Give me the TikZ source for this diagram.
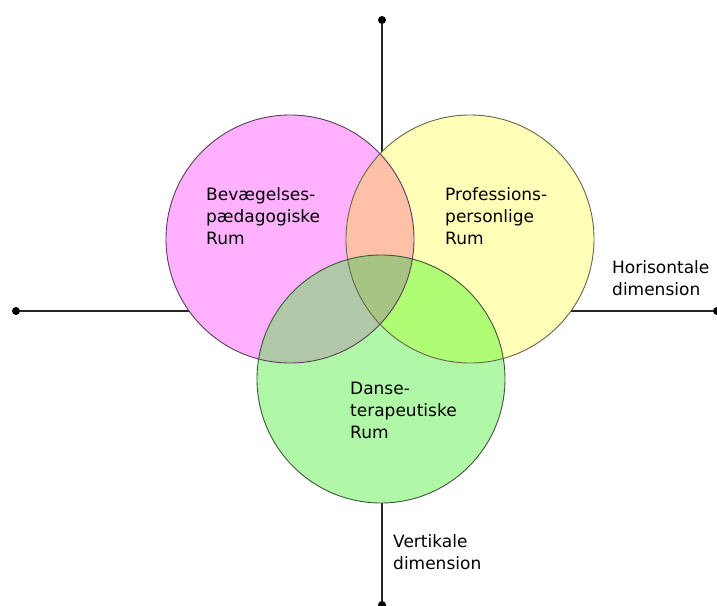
\documentclass[tikz,border=0pt]{standalone}
\usepackage{fontspec}
\setmainfont{DejaVu Sans}

\definecolor{PinkRoom}{HTML}{FFB0FF}
\definecolor{YellowRoom}{HTML}{FFFFB8}
\definecolor{GreenRoom}{HTML}{B0F8A8}
\definecolor{PinkYellow}{HTML}{FFC0A8}
\definecolor{PinkGreen}{HTML}{B0C8A8}
\definecolor{YellowGreen}{HTML}{B0FC74}
\definecolor{AllRooms}{HTML}{A8C484}

\begin{document}
\begin{tikzpicture}[x=1pt, y=-1pt]
    \useasboundingbox (0,0) rectangle (717,605);

    \tikzset{AxisStyle/.style={draw=black!85, line width=1.1pt}}
    \tikzset{DotStyle/.style={circle, fill=black, inner sep=0pt, minimum size=8pt}}
    \tikzset{RoomStyle/.style={line width=0.9pt}}
    \tikzset{TextStyle/.style={anchor=west, align=left, inner sep=0pt,
        font=\fontsize{17}{22}\selectfont}}

    % axes
    \node[DotStyle] (top)    at (382,20)  {};
    \node[DotStyle] (bottom) at (382,605) {};
    \node[DotStyle] (left)   at (16,311)  {};
    \node[DotStyle] (right)  at (717,311) {};
    \draw[AxisStyle] (top) -- (bottom);
    \draw[AxisStyle] (left) -- (right);

    % rooms
    \coordinate (B) at (290,239);
    \coordinate (P) at (470,239);
    \coordinate (D) at (381,379);

    \fill[PinkRoom]   (B) circle[radius=124pt];
    \fill[YellowRoom] (P) circle[radius=124pt];
    \fill[GreenRoom]  (D) circle[radius=124pt];
    \begin{scope}
        \clip (B) circle[radius=124pt];
        \fill[PinkYellow] (P) circle[radius=124pt];
        \fill[PinkGreen]  (D) circle[radius=124pt];
    \end{scope}
    \begin{scope}
        \clip (P) circle[radius=124pt];
        \fill[YellowGreen] (D) circle[radius=124pt];
    \end{scope}
    \begin{scope}
        \clip (B) circle[radius=124pt];
        \clip (P) circle[radius=124pt];
        \fill[AllRooms] (D) circle[radius=124pt];
    \end{scope}
    \draw[RoomStyle, draw=PinkRoom!35!black]   (B) circle[radius=124pt];
    \draw[RoomStyle, draw=YellowRoom!40!black] (P) circle[radius=124pt];
    \draw[RoomStyle, draw=GreenRoom!35!black]  (D) circle[radius=124pt];

    % labels
    \node[TextStyle] (bev)   at (206,216) {Bevægelses-\\pædagogiske\\Rum};
    \node[TextStyle] (prof)  at (445,216) {Professions-\\personlige\\Rum};
    \node[TextStyle] (danse) at (350,410) {Danse-\\terapeutiske\\Rum};
    \node[TextStyle] (horis) at (612,278) {Horisontale\\dimension};
    \node[TextStyle] (vert)  at (393,552) {Vertikale\\dimension};
\end{tikzpicture}
\end{document}
